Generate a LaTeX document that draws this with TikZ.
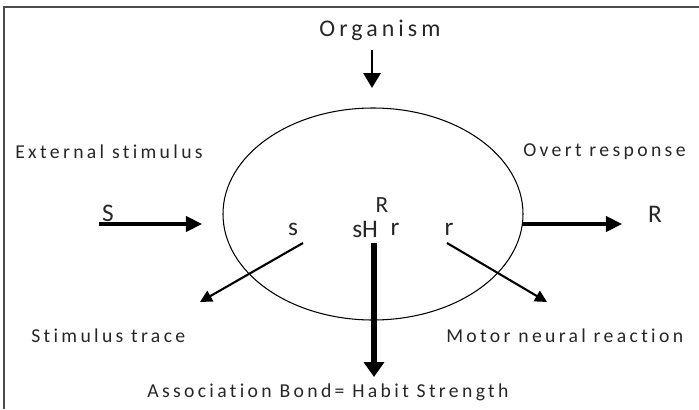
\documentclass[tikz,border=0pt]{standalone}
\usepackage{fontspec}
\setmainfont{Carlito}
\newfontfamily\lblfont[LetterSpace=17, Ligatures={NoCommon}]{Carlito}
\usetikzlibrary{arrows.meta, positioning}

\begin{document}
\begin{tikzpicture}[x=0.025cm, y=-0.025cm,
  lbl/.style={font=\lblfont\fontsize{14}{16}\selectfont, text=black!85, inner sep=0pt, anchor=west},
  sym/.style={font=\fontsize{18}{20}\selectfont, text=black!85, inner sep=0pt},
  arrthin/.style={line width=1.5pt, -{Triangle[length=8.5pt, width=8.5pt]}},
  arrmid/.style={line width=2.2pt, -{Triangle[length=11.5pt, width=11pt]}},
  arrfat/.style={line width=4.2pt, -{Triangle[length=10.5pt, width=14pt]}}]
  \useasboundingbox (0,0) rectangle (699,409);
  % frame (top and left edges only are shown)
  \draw[black!70, line width=1.1pt] (4,409) -- (4,7) -- (699,7);
  % organism: centre (373,214), radii 150 x 106
  \coordinate (ctr) at (373,214);
  \draw[line width=0.75pt] (ctr) ellipse [x radius=150, y radius=106];
  % labels outside the organism
  \node[lbl, anchor=center, font=\lblfont\fontsize{17}{20}\selectfont] (org) at (380,30) {Organism};
  \node[lbl] (ext) at (15,152) {External stimulus};
  \node[lbl] (ovt) at (523,152) {Overt response};
  \node[lbl] (trc) at (31,336) {Stimulus trace};
  \node[lbl] (mot) at (446,336) {Motor neural reaction};
  \node[lbl] (bnd) at (147,392) {Association Bond= Habit Strength};
  % symbols
  \node[sym] (S) at (108,213) {S};
  \node[sym] (R) at (655,214) {R};
  \node[sym] (s) at (293,229) {s};
  \node[sym, anchor=west] (hab) at (352,229) {sH};
  \node[sym, font=\fontsize{16.5}{18}\selectfont] (habR) at (382,205) {R};
  \node[sym] (habr) at (395,229) {r};
  \node[sym] (r) at (449,229) {r};
  % arrow end points
  \coordinate (orgA) at (372,50);  \coordinate (orgB) at (372,88);
  \coordinate (SA) at (99,224);    \coordinate (SB) at (202,224);
  \coordinate (RA) at (522,224);   \coordinate (RB) at (622,224);
  \coordinate (sA) at (303,243);   \coordinate (sB) at (200,302);
  \coordinate (rA) at (447,243);   \coordinate (rB) at (547,302);
  \coordinate (hA) at (374,243);   \coordinate (hB) at (374,377);
  % arrows
  \draw[line width=1.9pt, -{Triangle[length=10.5pt, width=12pt]}] (orgA) -- (orgB);
  \draw[arrmid] (SA) -- (SB);
  \draw[arrmid] (RA) -- (RB);
  \draw[arrthin] (sA) -- (sB);
  \draw[arrthin] (rA) -- (rB);
  \draw[arrfat] (hA) -- (hB);
\end{tikzpicture}
\end{document}
